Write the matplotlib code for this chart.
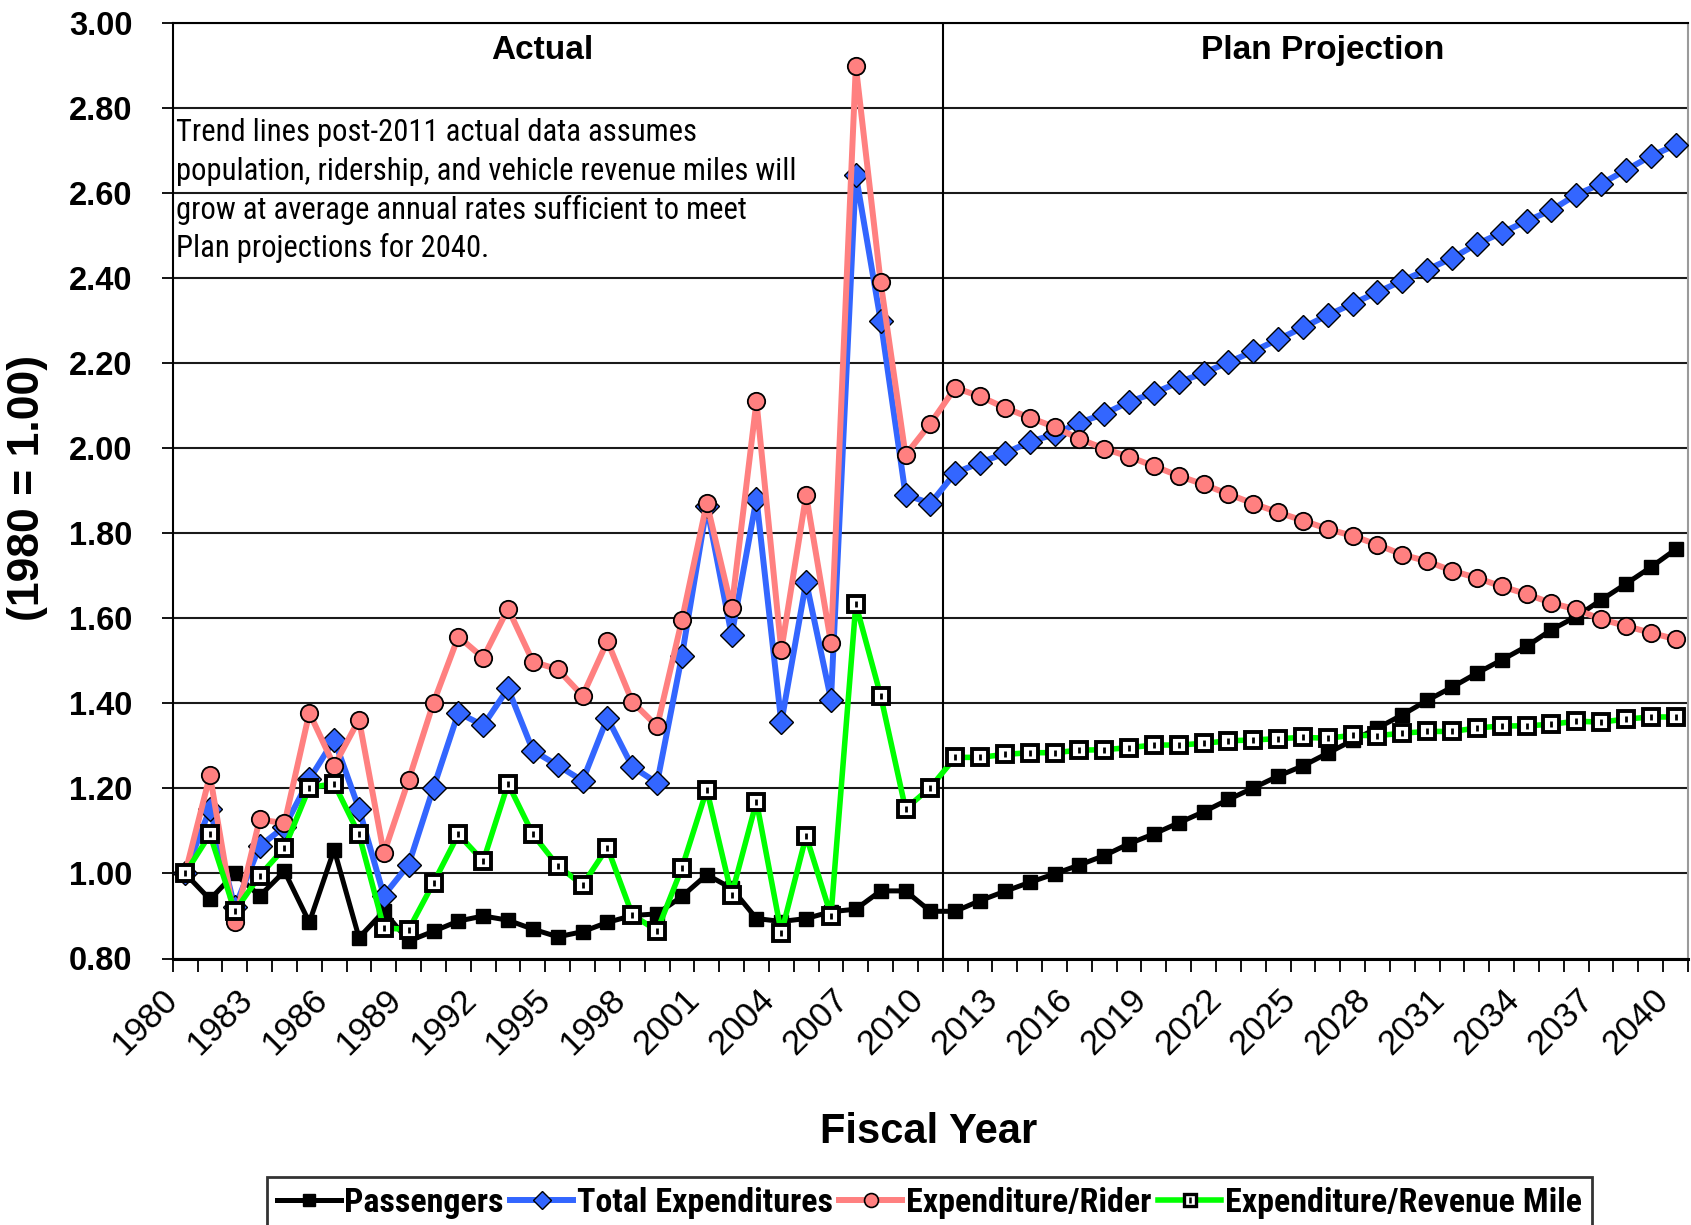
import numpy as np
import matplotlib
matplotlib.use("Agg")
import matplotlib.pyplot as plt
from matplotlib import font_manager as fm
from matplotlib.lines import Line2D
from matplotlib.ticker import FixedLocator, NullFormatter
from matplotlib.transforms import ScaledTranslation, blended_transform_factory

# ---------------------------------------------------------------- data
years = list(range(1980, 2041))

passengers = [
    1.000, 0.939, 1.000, 0.947, 1.005, 0.885, 1.056, 0.849, 0.911, 0.841,
    0.864, 0.888, 0.900, 0.890, 0.869, 0.851, 0.863, 0.885, 0.901, 0.905,
    0.946, 0.997, 0.965, 0.894, 0.887, 0.894, 0.910, 0.916, 0.959, 0.959,
    0.911,
    0.911, 0.936, 0.958, 0.979, 0.999, 1.020, 1.042, 1.070, 1.093, 1.119,
    1.145, 1.174, 1.201, 1.229, 1.253, 1.283, 1.313, 1.342, 1.373, 1.407,
    1.438, 1.471, 1.502, 1.534, 1.573, 1.604, 1.643, 1.681, 1.720, 1.762,
]

total_expenditures = [
    1.000, 1.152, 0.920, 1.064, 1.110, 1.221, 1.315, 1.152, 0.948, 1.021,
    1.202, 1.378, 1.348, 1.435, 1.289, 1.254, 1.218, 1.366, 1.251, 1.213,
    1.512, 1.863, 1.560, 1.881, 1.355, 1.686, 1.409, 2.643, 2.300, 1.891,
    1.870,
    1.942, 1.966, 1.988, 2.015, 2.033, 2.060, 2.081, 2.109, 2.130, 2.155,
    2.177, 2.202, 2.228, 2.256, 2.284, 2.313, 2.340, 2.367, 2.394, 2.420,
    2.447, 2.480, 2.507, 2.534, 2.560, 2.596, 2.622, 2.654, 2.687, 2.713,
]

expenditure_per_rider = [
    1.000, 1.231, 0.885, 1.127, 1.118, 1.378, 1.253, 1.362, 1.047, 1.220,
    1.402, 1.557, 1.507, 1.623, 1.498, 1.480, 1.418, 1.546, 1.404, 1.346,
    1.596, 1.871, 1.624, 2.110, 1.525, 1.890, 1.542, 2.899, 2.390, 1.984,
    2.058,
    2.142, 2.122, 2.095, 2.072, 2.050, 2.022, 1.999, 1.980, 1.958, 1.935,
    1.915, 1.892, 1.870, 1.849, 1.830, 1.810, 1.794, 1.773, 1.750, 1.734,
    1.712, 1.695, 1.675, 1.657, 1.636, 1.621, 1.598, 1.582, 1.566, 1.551,
]

expenditure_per_rev_mile = [
    1.000, 1.092, 0.911, 0.995, 1.060, 1.202, 1.211, 1.092, 0.872, 0.868,
    0.978, 1.092, 1.029, 1.211, 1.092, 1.018, 0.973, 1.061, 0.903, 0.865,
    1.013, 1.197, 0.950, 1.169, 0.860, 1.088, 0.901, 1.633, 1.418, 1.152,
    1.202,
    1.273, 1.273, 1.280, 1.284, 1.284, 1.290, 1.291, 1.296, 1.302, 1.302,
    1.306, 1.312, 1.314, 1.317, 1.320, 1.318, 1.325, 1.324, 1.330, 1.334,
    1.334, 1.342, 1.347, 1.347, 1.351, 1.358, 1.356, 1.363, 1.368, 1.368,
]

series_names = ["Passengers", "Total Expenditures", "Expenditure/Rider",
                "Expenditure/Revenue Mile"]
tick_years = years[::3]
y_ticks = [0.80, 1.00, 1.20, 1.40, 1.60, 1.80, 2.00, 2.20, 2.40, 2.60, 2.80, 3.00]
last_actual_year = 2010

note_lines = ["Trend lines post-2011 actual data assumes",
              "population, ridership, and vehicle revenue miles will",
              "grow at average annual rates sufficient to meet",
              "Plan projections for 2040."]


# ---------------------------------------------------------------- fonts
BASE = ["Liberation Sans", "DejaVu Sans"]
plt.rcParams["font.family"] = BASE


def narrow_font(weight):
    """Return FontProperties for an installed narrow/condensed sans face."""
    preferred = ["Liberation Sans Narrow", "Arial Narrow", "Roboto Condensed",
                 "Open Sans Condensed", "Noto Sans Condensed",
                 "DejaVu Sans Condensed"]
    found = []
    for f in fm.fontManager.ttflist:
        fname = f.fname.lower()
        if "mono" in fname or ("serif" in fname and "sans" not in fname):
            continue
        if f.style != "normal":
            continue
        narrow = ("narrow" in fname or "condensed" in fname
                  or f.stretch in ("condensed", "semi-condensed"))
        if not narrow:
            continue
        w = f.weight if isinstance(f.weight, int) else (700 if "bold" in str(f.weight) else 400)
        rank = preferred.index(f.name) if f.name in preferred else len(preferred)
        found.append((rank, abs(w - weight), f.fname))
    if found:
        found.sort()
        return fm.FontProperties(fname=found[0][2])
    return fm.FontProperties(family=BASE, weight=weight)


# ---------------------------------------------------------------- figure
W, H = 1691, 1225
fig = plt.figure(figsize=(W / 100, H / 100), dpi=100)
left, right, top, bottom = 172.7, 1688.0, 23.0, 958.5
ax = fig.add_axes([left / W, 1 - bottom / H, (right - left) / W, (bottom - top) / H])
renderer = fig.canvas.get_renderer()

x = np.arange(len(years))

BLUE = "#3366FF"
SALMON = "#FF8080"
GREEN = "#00FF00"

ax.plot(x, passengers, color="black", lw=3.6, marker="s", ms=10,
        mfc="black", mec="black", zorder=3)
ax.plot(x, total_expenditures, color=BLUE, lw=4.3, marker="D", ms=12,
        mfc=BLUE, mec="black", mew=1.0, zorder=4)
ax.plot(x, expenditure_per_rider, color=SALMON, lw=4.3, marker="o", ms=12.5,
        mfc=SALMON, mec="black", mew=1.3, zorder=5)
ax.plot(x, expenditure_per_rev_mile, color=GREEN, lw=4.0, marker="s", ms=11.5,
        mfc="white", mec="black", mew=2.8, zorder=6)
ax.plot(x, expenditure_per_rev_mile, ls="none", marker="|", ms=4.5,
        mec="black", mew=2.0, zorder=7)

# axes ranges and grid
ax.set_xlim(-0.5, len(years) - 0.5)
ax.set_ylim(0.80, 3.00)
for v in y_ticks:
    ax.axhline(v, color="#1a1a1a", lw=1.5, zorder=1)

divider = years.index(last_actual_year) + 0.5
ax.axvline(divider, color="black", lw=1.5, zorder=2)

# spines
for s in ("left", "top", "bottom"):
    ax.spines[s].set_color("black")
ax.spines["left"].set_linewidth(1.5)
ax.spines["top"].set_linewidth(1.5)
ax.spines["bottom"].set_linewidth(2.2)
ax.spines["right"].set_color("#9a9a9a")
ax.spines["right"].set_linewidth(1.5)

# y ticks
ax.set_yticks(y_ticks)
ax.set_yticklabels([f"{v:.2f}" for v in y_ticks])
ax.tick_params(axis="y", direction="out", length=8, width=1.3, pad=21,
               labelsize=23.5)
for t in ax.get_yticklabels():
    t.set_fontweight("bold")

# x ticks: marks at category boundaries, labels at every third year
bounds = np.arange(-0.5, len(years), 1.0)
ax.xaxis.set_major_locator(FixedLocator(bounds))
ax.xaxis.set_major_formatter(NullFormatter())
ax.tick_params(axis="x", which="major", direction="out", length=9, width=1.3)

xlab_tr = blended_transform_factory(ax.transData, ax.transAxes) + \
    ScaledTranslation(-0.24, -0.24, fig.dpi_scale_trans)
for yv in tick_years:
    ax.text(years.index(yv), 0.0, str(yv), transform=xlab_tr, rotation=45,
            rotation_mode="anchor", ha="right", va="top", fontsize=25,
            clip_on=False)

# axis titles
fig.text(929 / W, 1 - 1132 / H, "Fiscal Year", ha="center", va="center",
         fontsize=30, fontweight="bold")
fig.text(28 / W, 1 - 488 / H, "(1980 = 1.00)", ha="center", va="center",
         rotation=90, fontsize=32, fontweight="bold")

# section headings
ax.text(14.37, 2.935, "Actual", ha="center", va="center", fontsize=24,
        fontweight="bold")
ax.text(45.8, 2.935, "Plan Projection", ha="center", va="center",
        fontsize=24, fontweight="bold")

# explanatory note, sized so its widest line spans about 618 px
note_fp = narrow_font(400)
probe = ax.text(0, 0, note_lines[1], fontproperties=note_fp)
probe.set_fontsize(20)
wpx = probe.get_window_extent(renderer).width
probe.remove()
note_size = 20 * 618.0 / wpx
line_px = 38.8
for k, line in enumerate(note_lines):
    tr = blended_transform_factory(ax.transData, fig.transFigure) + \
        ScaledTranslation(0, -(141.0 + k * line_px) / 100, fig.dpi_scale_trans)
    ax.text(-0.36, 1.0, line, fontproperties=note_fp, fontsize=note_size,
            ha="left", va="baseline", transform=tr, clip_on=False)

# legend
h_pass = Line2D([], [], color="black", lw=3.6, marker="s", ms=8, mfc="black")
h_tot = Line2D([], [], color=BLUE, lw=4.3, marker="D", ms=9, mfc=BLUE,
               mec="black", mew=1.0)
h_rid = Line2D([], [], color=SALMON, lw=4.3, marker="o", ms=10, mfc=SALMON,
               mec="black", mew=1.2)
h_mile = Line2D([], [], color=GREEN, lw=4.0, marker="s", ms=9, mfc="white",
                mec="black", mew=2.4)
h_mile_i = Line2D([], [], ls="none", marker="|", ms=4, mec="black", mew=1.8)
leg_handles = [h_pass, h_tot, h_rid, (h_mile, h_mile_i)]
leg_fp = narrow_font(700)


def make_legend(size):
    fp = leg_fp.copy()
    fp.set_size(size)
    lg = fig.legend(leg_handles, series_names, loc="upper center",
                    bbox_to_anchor=(929.5 / W, 1 - 1177 / H), ncol=4,
                    frameon=True, fancybox=False, handlelength=1.85,
                    handletextpad=0.1, columnspacing=0.2, borderpad=0.3,
                    borderaxespad=0.0, prop=fp)
    lg.get_frame().set_edgecolor("black")
    lg.get_frame().set_linewidth(2.0)
    return lg


leg = make_legend(20)
lw_px = leg.get_window_extent(renderer).width
leg.remove()
leg = make_legend(20 * 1322.0 / lw_px)

fig.savefig("out.png", dpi=100, facecolor="white")
